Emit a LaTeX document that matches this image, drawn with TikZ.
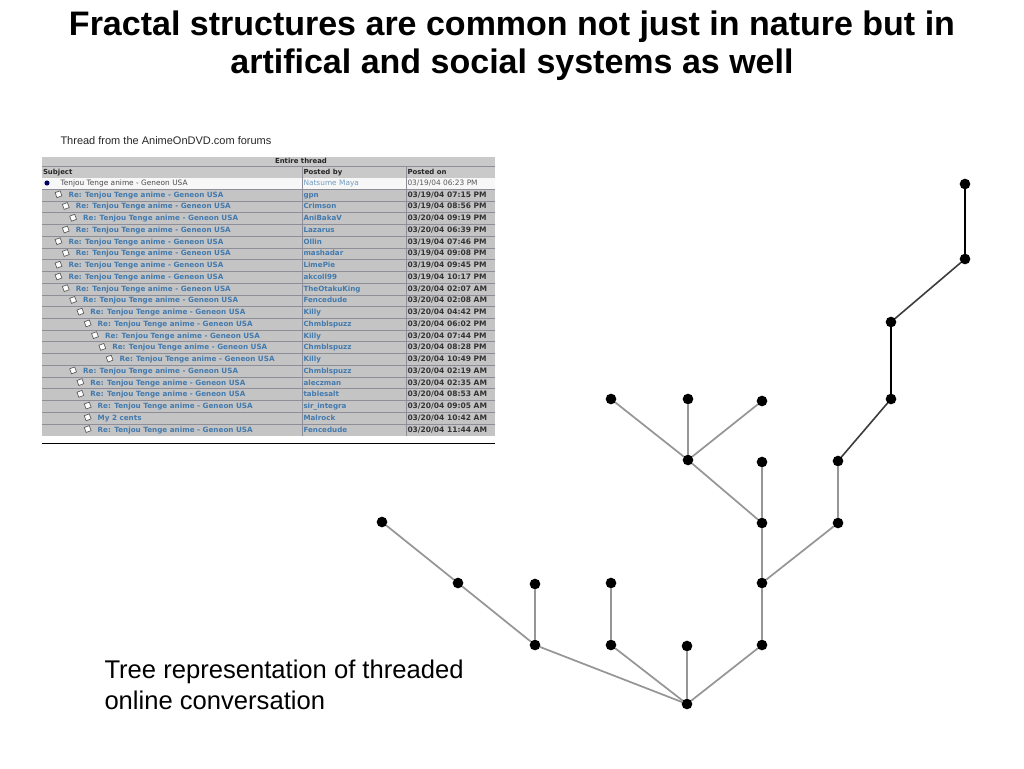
\documentclass[tikz,border=0pt]{standalone}
\usepackage{fontspec}
\setmainfont{Liberation Sans}
\newfontfamily\forumfont{DejaVu Sans}

\definecolor{rowgray}{RGB}{196,196,196}
\definecolor{headgray}{RGB}{200,201,200}
\definecolor{rulegray}{RGB}{142,142,152}
\definecolor{linkblue}{RGB}{66,122,174}
\definecolor{edgegray}{RGB}{150,150,150}
\definecolor{edgedark}{RGB}{60,60,60}

\newcommand{\resubj}{Re: Tenjou Tenge anime - Geneon USA}

\tikzset{every picture/.style={line width=0.75pt}}
\tikzset{
  titletext/.style={inner sep=0pt,align=center,font=\fontsize{25.5}{28.5}\selectfont\bfseries},
  captext/.style={anchor=north west,inner sep=0pt,align=left,font=\fontsize{19.2}{23.25}\selectfont},
  forumcell/.style={anchor=west,inner sep=0pt,text height=4pt,text depth=1pt},
  forumhead/.style={forumcell,text=black!85,font=\forumfont\fontsize{5.2}{6}\selectfont\bfseries},
  subjcell/.style={forumcell,text=linkblue,font=\forumfont\fontsize{5.4}{6}\selectfont\bfseries},
  whocell/.style={forumcell,text=linkblue,font=\forumfont\fontsize{5.35}{6}\selectfont\bfseries},
  whencell/.style={forumcell,text=black!80,font=\forumfont\fontsize{5.65}{6}\selectfont\bfseries},
  rootcell/.style={forumcell,font=\forumfont\fontsize{5.55}{6}\selectfont},
  posticon/.style={draw=black!65,fill=white,line width=0.5pt,inner sep=0pt,minimum width=4pt,minimum height=4pt,rotate=20},
  rooticon/.style={circle,fill=blue!40!black,inner sep=0pt,minimum size=3.8pt},
  treedot/.style={circle,fill=black,inner sep=0pt,outer sep=0pt,minimum size=8pt},
  greyedge/.style={draw=edgegray,line width=1.3pt},
  darkedge/.style={draw=edgedark,line width=1.2pt},
  blackedge/.style={draw=black,line width=1.2pt}
}

\begin{document}
\begin{tikzpicture}[x=0.75pt,y=0.75pt,yscale=-1,xscale=1]
\useasboundingbox (0,0) rectangle (1024,768);

% Title
\draw (512,46) node [titletext] (title) {Fractal structures are common not just in nature but in\\artifical and social systems as well};
% Caption
\draw (104,659) node [captext] (caption) {Tree representation of threaded\\online conversation};

% Forum table, header
\draw (60,141) node [anchor=west,inner sep=0pt,font=\fontsize{8.25}{10}\selectfont,text=black!85] (forum) {Thread from the AnimeOnDVD.com forums};
\fill [headgray] (42,157) rectangle (495,177.5);
\draw [rulegray] (42,166.5) -- (495,166.5);
\draw (301,161.5) node [forumhead,anchor=center] (entire) {Entire thread};
\draw (42.5,172) node [forumhead] (subject) {Subject};
\draw (303,172) node [forumhead] (postedby) {Posted by};
\draw (407,172) node [forumhead] (postedon) {Posted on};

% First post
\fill [black!3] (42,177.5) rectangle (495,189.4);
\draw (47,183) node [rooticon] (rootpost) {};
\draw (60,183.5) node [rootcell,text=black!70] (rootsubj) {Tenjou Tenge anime - Geneon USA};
\draw (303,183.5) node [rootcell,text=linkblue!75] (rootwho) {Natsume Maya};
\draw (407,183.5) node [rootcell,text=black!65] (rootwhen) {03/19/04 06:23 PM};

% Replies: depth/subject/poster/day/time
\foreach \dep/\subj/\who/\dd/\tm [count=\i from 1] in {
  1/\resubj/gpn/19/07:15 PM,
  2/\resubj/Crimson/19/08:56 PM,
  3/\resubj/AniBakaV/20/09:19 PM,
  2/\resubj/Lazarus/20/06:39 PM,
  1/\resubj/Ollin/19/07:46 PM,
  2/\resubj/mashadar/19/09:08 PM,
  1/\resubj/LimePie/19/09:45 PM,
  1/\resubj/akcoll99/19/10:17 PM,
  2/\resubj/TheOtakuKing/20/02:07 AM,
  3/\resubj/Fencedude/20/02:08 AM,
  4/\resubj/Killy/20/04:42 PM,
  5/\resubj/Chmblspuzz/20/06:02 PM,
  6/\resubj/Killy/20/07:44 PM,
  7/\resubj/Chmblspuzz/20/08:28 PM,
  8/\resubj/Killy/20/10:49 PM,
  3/\resubj/Chmblspuzz/20/02:19 AM,
  4/\resubj/aleczman/20/02:35 AM,
  4/\resubj/tablesalt/20/08:53 AM,
  5/\resubj/sir\_integra/20/09:05 AM,
  5/My 2 cents/Malrock/20/10:42 AM,
  5/\resubj/Fencedude/20/11:44 AM}
{
  \pgfmathsetmacro{\rowy}{183.5+\i*11.74}
  \pgfmathsetmacro{\subjx}{60.7+\dep*7.3}
  \fill [rowgray] (42,\rowy-5.87) rectangle (495,\rowy+5.87);
  \draw [rulegray] (42,\rowy-5.87) -- (495,\rowy-5.87);
  \draw (\subjx-9.5,\rowy-1) node [posticon] (icon\i) {};
  \draw (\subjx,\rowy) node [subjcell] (subj\i) {\subj};
  \draw (303,\rowy) node [whocell] (who\i) {\who};
  \draw (407,\rowy) node [whencell] (when\i) {03/\dd/04 \tm};
}
\draw [rulegray] (302,166.5) -- (302,436);
\draw [rulegray] (406,166.5) -- (406,436);
\draw [black] (42,443.5) -- (495,443.5);

% Tree nodes
\draw (965,184) node [treedot] (top) {};
\draw (965,259) node [treedot] (topb) {};
\draw (891,322) node [treedot] (upa) {};
\draw (891,399) node [treedot] (upb) {};
\draw (838,461) node [treedot] (rta) {};
\draw (838,523) node [treedot] (rtb) {};
\draw (611,399) node [treedot] (fana) {};
\draw (688,399) node [treedot] (fanb) {};
\draw (762,401) node [treedot] (fanc) {};
\draw (688,460) node [treedot] (fan) {};
\draw (762,462) node [treedot] (mida) {};
\draw (762,523) node [treedot] (midb) {};
\draw (762,583) node [treedot] (midc) {};
\draw (762,645) node [treedot] (midd) {};
\draw (382,522) node [treedot] (lfa) {};
\draw (458,583) node [treedot] (lfb) {};
\draw (535,584) node [treedot] (lfc) {};
\draw (535,645) node [treedot] (lfd) {};
\draw (611,583) node [treedot] (cna) {};
\draw (611,645) node [treedot] (cnb) {};
\draw (687,646) node [treedot] (cnc) {};
\draw (687,704) node [treedot] (root) {};

% Tree edges
\draw [blackedge] (top) -- (topb);
\draw [darkedge] (topb) -- (upa);
\draw [blackedge] (upa) -- (upb);
\draw [darkedge] (upb) -- (rta);
\draw [greyedge] (rta) -- (rtb);
\draw [greyedge] (rtb) -- (midc);
\draw [greyedge] (fana) -- (fan);
\draw [greyedge] (fanb) -- (fan);
\draw [greyedge] (fanc) -- (fan);
\draw [greyedge] (fan) -- (midb);
\draw [greyedge] (mida) -- (midb);
\draw [greyedge] (midb) -- (midc);
\draw [greyedge] (midc) -- (midd);
\draw [greyedge] (midd) -- (root);
\draw [greyedge] (lfa) -- (lfb);
\draw [greyedge] (lfb) -- (lfd);
\draw [greyedge] (lfc) -- (lfd);
\draw [greyedge] (lfd) -- (root);
\draw [greyedge] (cna) -- (cnb);
\draw [greyedge] (cnb) -- (root);
\draw [greyedge] (cnc) -- (root);

\end{tikzpicture}
\end{document}
